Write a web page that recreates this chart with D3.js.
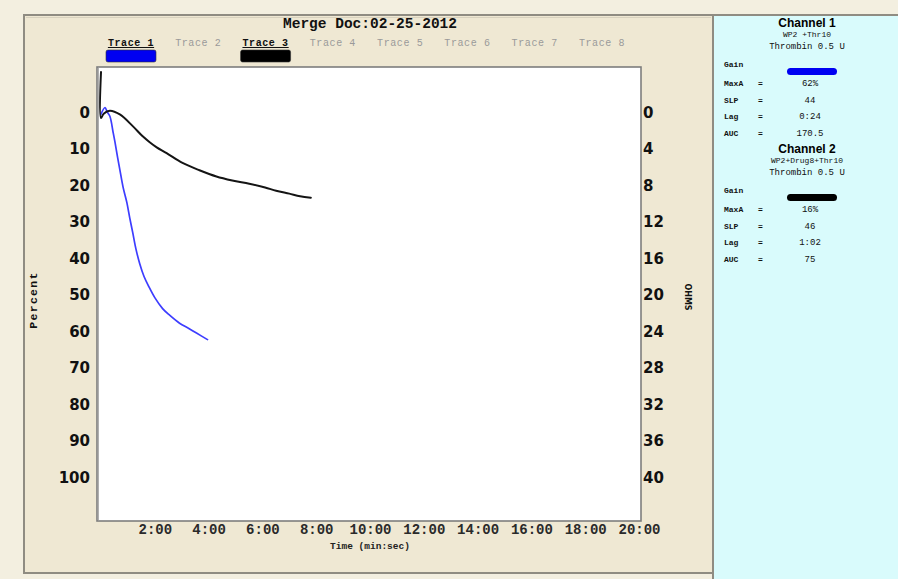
<!DOCTYPE html>
<html><head><meta charset="utf-8">
<script src="https://cdn.jsdelivr.net/npm/d3@7"></script>
<style>
body{margin:0;padding:0;background:#f3efe0;}
svg{display:block;}
</style></head>
<body>
<svg id="chart" width="898" height="579"></svg>
<script>
// ---------------- data ----------------
const title = "Merge Doc:02-25-2012";
const traceNames = ["Trace 1","Trace 2","Trace 3","Trace 4","Trace 5","Trace 6","Trace 7","Trace 8"];
const activeTraces = ["Trace 1","Trace 3"];
const traceColors = {"Trace 1":"#0000f2","Trace 3":"#000000"};
const percentTicks = [0,10,20,30,40,50,60,70,80,90,100];
const ohmsTicks = [0,4,8,12,16,20,24,28,32,36,40];
const timeTicks = [2,4,6,8,10,12,14,16,18,20];
const timeTickLabels = ["2:00","4:00","6:00","8:00","10:00","12:00","14:00","16:00","18:00","20:00"];
// Trace 1 (blue): time in minutes, aggregation in percent
const trace1Time = [0, 0.15, 0.22, 0.33, 0.45, 0.52, 0.62, 0.70, 0.82, 0.96, 1.07, 1.18, 1.30, 1.44, 1.60, 1.78, 2.0, 2.29, 2.55, 2.92, 3.25, 3.55, 3.96];
const trace1Pct  = [0.5, -1.3, -0.2, 1.1, 5.5, 8.2, 12.5, 15.7, 20.5, 24.7, 29.0, 33.0, 37.5, 41.5, 45.0, 47.8, 50.8, 53.8, 55.6, 57.8, 59.2, 60.5, 62.3];
// Trace 3 (black)
const trace3Time = [0, 0, 0.1, 0.33, 0.7, 1.18, 1.55, 1.81, 2.07, 2.44, 3.03, 3.66, 4.29, 4.88, 5.51, 6.1, 6.51, 7.0, 7.4, 7.8];
const trace3Pct  = [-11, 1.6, 0.4, -0.4, 0.6, 3.8, 6.6, 8.2, 9.6, 11.2, 13.9, 15.9, 17.6, 18.7, 19.6, 20.6, 21.5, 22.3, 23.0, 23.4];
// right info panel
const channelTitles = ["Channel 1","Channel 2"];
const channelAgonists = ["WP2 +Thr10","WP2+Drug8+Thr10"];
const channelReagents = ["Thrombin 0.5 U","Thrombin 0.5 U"];
const channelColors = ["#0000f2","#000000"];
const statLabels = ["MaxA","SLP","Lag","AUC"];
const channel1Stats = ["62%","44","0:24","170.5"];
const channel2Stats = ["16%","46","1:02","75"];

// ---------------- drawing ----------------
const svg = d3.select("#chart");
const W = 898, H = 579;
const mono = "'Liberation Mono','DejaVu Sans Mono',monospace";
const sans = "'DejaVu Sans','Liberation Sans',sans-serif";
const arial = "'Liberation Sans',Arial,sans-serif";

// backgrounds
svg.append("rect").attr("x",0).attr("y",0).attr("width",W).attr("height",H).attr("fill","#f3efe0");
svg.append("rect").attr("x",24).attr("y",15).attr("width",689).attr("height",558)
  .attr("fill","#efe8d3").attr("stroke","#8f8c82").attr("stroke-width",2);
svg.append("line").attr("x1",26).attr("x2",711).attr("y1",17.5).attr("y2",17.5).attr("stroke","#d8d2bf").attr("stroke-width",1);
svg.append("rect").attr("x",713).attr("y",15).attr("width",W-713).attr("height",H-15)
  .attr("fill","#d9fbfc");
svg.append("line").attr("x1",713).attr("x2",713).attr("y1",15).attr("y2",H).attr("stroke","#8f8c82").attr("stroke-width",2);
svg.append("line").attr("x1",713).attr("x2",W).attr("y1",15).attr("y2",15).attr("stroke","#8f8c82").attr("stroke-width",2);

// plot area
const plot = {left:97, top:67, right:641, bottom:521};
svg.append("rect").attr("x",plot.left).attr("y",plot.top)
  .attr("width",plot.right-plot.left).attr("height",plot.bottom-plot.top)
  .attr("fill","#ffffff").attr("stroke","#7d7d7d").attr("stroke-width",1.6);
svg.append("line").attr("x1",plot.left+1.5).attr("x2",plot.left+1.5).attr("y1",plot.top+1).attr("y2",plot.bottom-1)
  .attr("stroke","#b0b0b0").attr("stroke-width",1);

const x = d3.scaleLinear().domain([0,20]).range([101,639]);
const y = d3.scaleLinear().domain([-12.4,112]).range([plot.top, plot.bottom]);
const yO = d3.scaleLinear().domain([-12.4/2.5,112/2.5]).range([plot.top, plot.bottom]);

// title
svg.append("text").attr("x",370).attr("y",28).attr("text-anchor","middle")
  .attr("font-family",mono).attr("font-weight","bold").attr("font-size",14.5).attr("fill","#111")
  .text(title);

// legend
const lx = d3.scalePoint().domain(traceNames).range([131,602]);
const leg = svg.append("g");
leg.selectAll("text").data(traceNames).join("text")
  .attr("x",d=>lx(d)).attr("y",46).attr("text-anchor","middle")
  .attr("font-family",mono).attr("font-size",10).attr("letter-spacing",0.6)
  .attr("font-weight",d=>activeTraces.includes(d)?"bold":"normal")
  .attr("fill",d=>activeTraces.includes(d)?"#111":"#9a9a9a")
  .attr("text-decoration",d=>activeTraces.includes(d)?"underline":"none")
  .text(d=>d);
leg.selectAll("rect").data(activeTraces).join("rect")
  .attr("x",d=>lx(d)-25).attr("y",50).attr("width",50).attr("height",12).attr("rx",2)
  .attr("fill",d=>traceColors[d]).attr("stroke","#333").attr("stroke-width",0.6);

// axes
const axL = svg.append("g").attr("transform",`translate(${plot.left},0)`)
  .call(d3.axisLeft(y).tickValues(percentTicks).tickSize(0).tickPadding(7));
axL.select(".domain").remove();
axL.selectAll("text").attr("font-family",sans).attr("font-weight","bold").attr("font-size",15).attr("fill","#111");

const axR = svg.append("g").attr("transform",`translate(${plot.right},0)`)
  .call(d3.axisRight(yO).tickValues(ohmsTicks).tickSize(0).tickPadding(2));
axR.select(".domain").remove();
axR.selectAll("text").attr("font-family",sans).attr("font-weight","bold").attr("font-size",15).attr("fill","#111");

const axB = svg.append("g").attr("transform",`translate(0,${plot.bottom})`)
  .call(d3.axisBottom(x).tickValues(timeTicks).tickFormat((d,i)=>timeTickLabels[i]).tickSize(0).tickPadding(3));
axB.select(".domain").remove();
axB.selectAll("text").attr("font-family",mono).attr("font-weight","bold").attr("font-size",14).attr("fill","#2a2a2a");

// axis titles
svg.append("text").attr("x",370).attr("y",549).attr("text-anchor","middle")
  .attr("font-family",mono).attr("font-weight","bold").attr("font-size",9.5).attr("fill","#222")
  .text("Time (min:sec)");
svg.append("text").attr("transform","translate(37,300) rotate(-90)").attr("text-anchor","middle")
  .attr("font-family",mono).attr("font-weight","bold").attr("font-size",11.5).attr("letter-spacing",1.3).attr("fill","#111")
  .text("Percent");
svg.append("text").attr("transform","translate(685,297) rotate(90)").attr("text-anchor","middle")
  .attr("font-family",sans).attr("font-weight","bold").attr("font-size",8).attr("fill","#111")
  .text("OHMS");

// traces
const line = d3.line().x(d=>x(d[0])).y(d=>y(d[1])).curve(d3.curveCatmullRom.alpha(0.5));
svg.append("path").datum(trace1Time.map((t,i)=>[t,trace1Pct[i]]))
  .attr("d",line).attr("fill","none").attr("stroke","#3d3dff").attr("stroke-width",1.7)
  .attr("stroke-linejoin","round").attr("stroke-linecap","round");
svg.append("path").datum(trace3Time.map((t,i)=>[t,trace3Pct[i]]))
  .attr("d",line).attr("fill","none").attr("stroke","#141414").attr("stroke-width",2)
  .attr("stroke-linejoin","round").attr("stroke-linecap","round");

// right info panel
const panelCX = 807;
const blocks = [
  {title:channelTitles[0], ag:channelAgonists[0], re:channelReagents[0], color:channelColors[0], stats:channel1Stats, top:0},
  {title:channelTitles[1], ag:channelAgonists[1], re:channelReagents[1], color:channelColors[1], stats:channel2Stats, top:126}
];
const bg = svg.selectAll("g.block").data(blocks).join("g").attr("class","block")
  .attr("transform",d=>`translate(0,${d.top})`);
bg.append("text").attr("x",panelCX).attr("y",27).attr("text-anchor","middle")
  .attr("font-family",arial).attr("font-weight","bold").attr("font-size",12).attr("fill","#000").text(d=>d.title);
bg.append("text").attr("x",panelCX).attr("y",37).attr("text-anchor","middle")
  .attr("font-family",mono).attr("font-size",8).attr("fill","#111").text(d=>d.ag);
bg.append("text").attr("x",panelCX).attr("y",49).attr("text-anchor","middle")
  .attr("font-family",mono).attr("font-size",9).attr("fill","#111").text(d=>d.re);
bg.append("text").attr("x",724).attr("y",67)
  .attr("font-family",mono).attr("font-weight","bold").attr("font-size",8).attr("fill","#111").text("Gain");
bg.append("rect").attr("x",787).attr("y",68).attr("width",50).attr("height",7).attr("rx",3.5)
  .attr("fill",d=>d.color);
bg.each(function(d){
  const g = d3.select(this);
  const rows = g.selectAll("g.row").data(statLabels.map((s,i)=>({lab:s,val:d.stats[i],i}))).join("g")
    .attr("class","row").attr("transform",r=>`translate(0,${86+r.i*16.5})`);
  rows.append("text").attr("x",724).attr("y",0).attr("font-family",mono).attr("font-weight","bold")
    .attr("font-size",8).attr("fill","#111").text(r=>r.lab);
  rows.append("text").attr("x",758).attr("y",0).attr("font-family",mono).attr("font-weight","bold")
    .attr("font-size",8).attr("fill","#111").text("=");
  rows.append("text").attr("x",810).attr("y",0).attr("text-anchor","middle").attr("font-family",mono)
    .attr("font-size",9).attr("fill","#111").text(r=>r.val);
});
</script>
</body></html>
